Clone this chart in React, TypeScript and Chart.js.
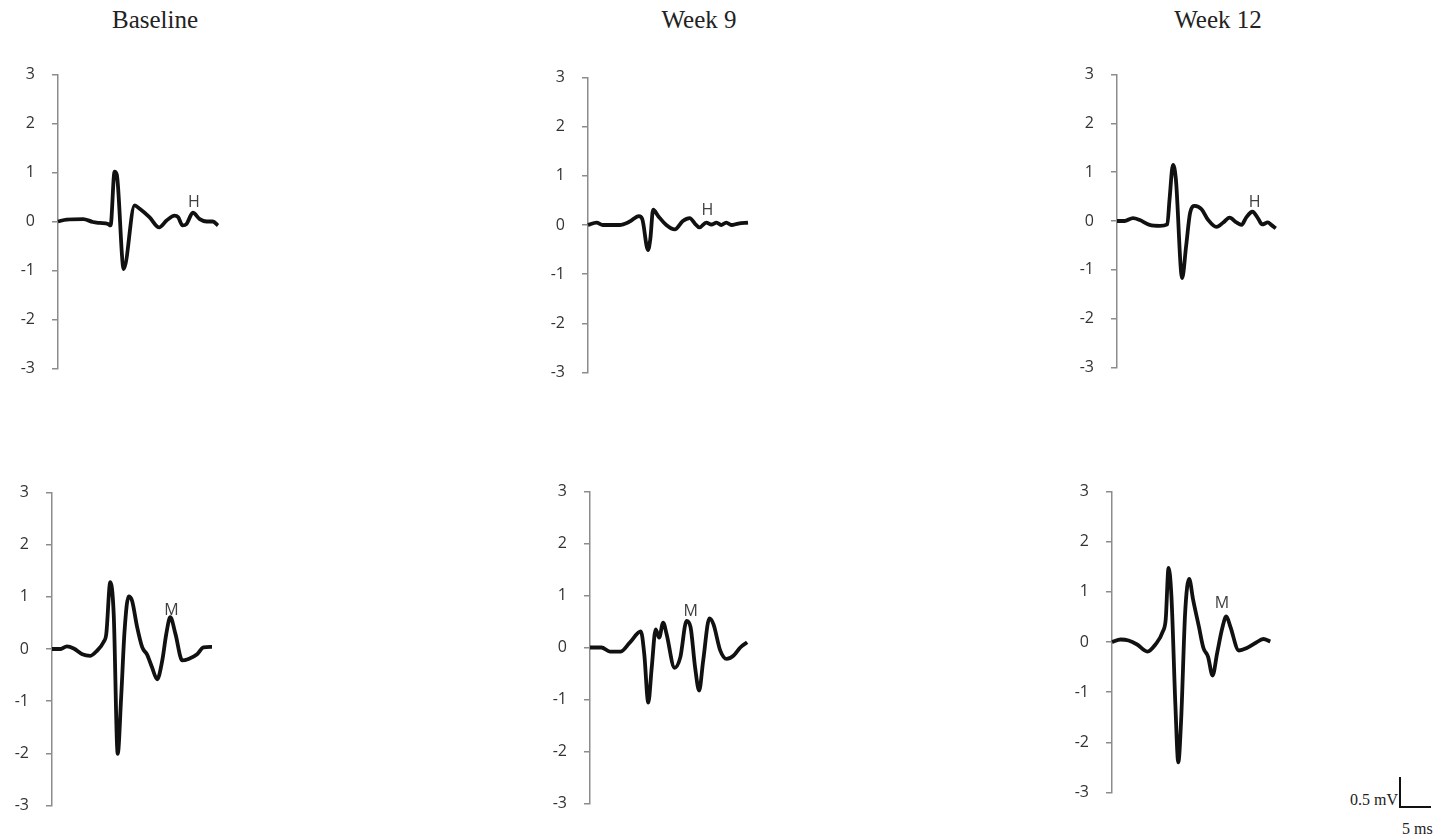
import React, { useEffect, useRef } from "react";
import { Chart, registerables } from "chart.js";

Chart.register(...registerables);

// ---- Data (time in ms, amplitude in mV) ----
const titles = ["Baseline", "Week 9", "Week 12"];
const yTicks = [-3, -2, -1, 0, 1, 2, 3];

const baselineHTime = [0, 1.5, 4.4, 6.1, 7.3, 8.75, 9.2, 9.9, 10.3, 11.5, 13.4, 14.3, 16.0, 17.7, 19.0, 20.4, 21.0, 21.8, 22.5, 23.6, 24.8, 26.0, 27.1, 28.0];
const baselineHValues = [0, 0.04, 0.05, -0.01, -0.03, -0.05, -0.08, 1.02, 0.95, -0.97, 0.33, 0.26, 0.09, -0.12, 0.02, 0.12, 0.09, -0.08, -0.05, 0.18, 0.05, 0.0, 0.0, -0.08];

const week9HTime = [0, 1.5, 2.6, 5.5, 7.3, 8.9, 9.5, 10.5, 10.9, 11.4, 12.3, 13.7, 15.2, 16.6, 17.8, 18.7, 19.5, 20.7, 21.6, 22.5, 23.3, 24.2, 25.1, 26.3, 28.0];
const week9HValues = [0, 0.05, 0, 0, 0.07, 0.18, 0.12, -0.51, -0.29, 0.31, 0.18, 0, -0.09, 0.08, 0.14, 0.03, -0.05, 0.05, 0.01, 0.05, 0, 0.05, 0, 0.03, 0.05];

const week12HTime = [0, 1.3, 2.8, 4.0, 5.7, 7.5, 8.8, 9.2, 9.8, 10.3, 11.4, 12.1, 12.8, 13.6, 14.8, 15.9, 17.4, 18.6, 19.7, 20.9, 21.8, 22.6, 23.7, 24.7, 25.4, 26.4, 27.0, 27.8];
const week12HValues = [0, 0, 0.06, 0.02, -0.08, -0.1, -0.07, 0.45, 1.15, 0.86, -1.17, -0.51, 0.17, 0.31, 0.24, 0.03, -0.12, -0.03, 0.07, -0.03, -0.08, 0.07, 0.19, 0.05, -0.07, -0.03, -0.08, -0.15];

const baselineMTime = [0, 1.5, 2.6, 3.8, 5.3, 6.7, 7.9, 9.0, 9.5, 10.2, 10.8, 11.5, 12.1, 12.7, 13.4, 14.0, 14.9, 15.8, 16.6, 17.5, 18.4, 19.3, 20.0, 20.7, 21.6, 22.8, 23.9, 25.4, 26.5, 28.0];
const baselineMValues = [0, 0, 0.05, 0.01, -0.1, -0.13, -0.03, 0.13, 0.29, 1.28, 0.67, -2.01, -0.93, 0.35, 1.01, 0.93, 0.42, 0.03, -0.1, -0.35, -0.58, -0.22, 0.29, 0.61, 0.29, -0.22, -0.19, -0.1, 0.03, 0.04];

const week9MTime = [0, 2.0, 3.5, 5.3, 7.0, 8.9, 9.5, 10.2, 10.8, 11.5, 12.1, 12.8, 13.4, 14.8, 15.8, 16.9, 17.6, 18.4, 19.1, 19.8, 20.9, 21.6, 22.8, 23.9, 25.1, 26.3, 27.5];
const week9MValues = [0, 0, -0.08, -0.08, 0.1, 0.31, -0.13, -1.06, -0.39, 0.35, 0.19, 0.48, 0.26, -0.39, -0.19, 0.51, 0.39, -0.39, -0.83, -0.26, 0.56, 0.45, -0.06, -0.22, -0.16, 0, 0.1];

const week12MTime = [0, 1.5, 2.9, 4.4, 6.2, 7.6, 8.9, 9.4, 9.9, 10.4, 11.1, 11.6, 12.1, 12.8, 13.5, 14.2, 15.2, 16.0, 16.8, 17.6, 18.4, 19.3, 20.0, 20.7, 22.2, 23.6, 25.1, 26.5, 27.7];
const week12MValues = [0, 0.05, 0.03, -0.05, -0.19, -0.05, 0.21, 0.45, 1.48, 0.91, -1.28, -2.4, -1.55, 0.58, 1.26, 0.84, 0.31, -0.12, -0.29, -0.67, -0.22, 0.28, 0.51, 0.31, -0.17, -0.12, -0.02, 0.06, 0.01];

// Wave labels (text, anchor in ms / mV)
const labelBaselineH = { text: "H", x: 23.8, y: 0.38 };
const labelWeek9H = { text: "H", x: 20.9, y: 0.3 };
const labelWeek12H = { text: "H", x: 24.1, y: 0.38 };
const labelBaselineM = { text: "M", x: 20.9, y: 0.74 };
const labelWeek9M = { text: "M", x: 17.6, y: 0.69 };
const labelWeek12M = { text: "M", x: 19.25, y: 0.76 };

// ---- Layout ----
const LABEL_SPACE = 60;
const AREA_W = 160;
const RIGHT_PAD = 12;
const TICK_FONT = 16;
const TICK_PADDING = 17;
// Chart.js reserves half a tick-label line plus the tick padding above/below the axis
const V_PAD = Math.round((TICK_FONT * 1.2) / 2 + TICK_PADDING);

const panels = [
  { left: 58, top: 75, bottom: 368, time: baselineHTime, values: baselineHValues, label: labelBaselineH },
  { left: 588, top: 78, bottom: 372, time: week9HTime, values: week9HValues, label: labelWeek9H },
  { left: 1117, top: 75, bottom: 367, time: week12HTime, values: week12HValues, label: labelWeek12H },
  { left: 52, top: 493, bottom: 805, time: baselineMTime, values: baselineMValues, label: labelBaselineM },
  { left: 590, top: 492, bottom: 803, time: week9MTime, values: week9MValues, label: labelWeek9M },
  { left: 1112, top: 492, bottom: 792, time: week12MTime, values: week12MValues, label: labelWeek12M },
];

const titlePos = [155, 699, 1218];

const waveLabelPlugin = {
  id: "waveLabel",
  afterDatasetsDraw(chart: any, _args: any, opts: any) {
    if (!opts || !opts.text) return;
    const { ctx, scales } = chart;
    const px = scales.x.getPixelForValue(opts.x);
    const py = scales.y.getPixelForValue(opts.y);
    ctx.save();
    ctx.font = "16px 'Open Sans', sans-serif";
    ctx.fillStyle = "#404040";
    ctx.textAlign = "center";
    ctx.textBaseline = "middle";
    ctx.fillText(opts.text, px, py);
    ctx.restore();
  },
};

function Panel({ p }: { p: any }) {
  const ref = useRef<HTMLCanvasElement>(null);
  const w = LABEL_SPACE + AREA_W + RIGHT_PAD;
  const h = p.bottom - p.top + 2 * V_PAD;
  useEffect(() => {
    if (!ref.current) return;
    const chart = new Chart(ref.current, {
      type: "line",
      data: {
        datasets: [
          {
            data: p.time.map((t: number, i: number) => ({ x: t, y: p.values[i] })),
            borderColor: "#111111",
            borderWidth: 3.8,
            pointRadius: 0,
            fill: false,
            cubicInterpolationMode: "monotone",
            clip: false as any,
          },
        ],
      },
      options: {
        animation: false,
        responsive: false,
        devicePixelRatio: 1,
        layout: { padding: { left: 0, right: RIGHT_PAD, top: 0, bottom: 0 } },
        plugins: {
          legend: { display: false },
          tooltip: { enabled: false },
          waveLabel: p.label,
        } as any,
        scales: {
          x: { type: "linear", display: false, min: 0, max: 28 },
          y: {
            type: "linear",
            min: -3,
            max: 3,
            afterBuildTicks: (s: any) => {
              s.ticks = yTicks.map((v) => ({ value: v }));
            },
            afterFit: (s: any) => {
              s.width = LABEL_SPACE;
            },
            ticks: {
              color: "#333333",
              font: { family: "'Open Sans', sans-serif", size: TICK_FONT },
              padding: TICK_PADDING,
            },
            grid: {
              drawOnChartArea: false,
              drawTicks: true,
              tickLength: 6,
              color: "#8c8c8c",
              lineWidth: 1.5,
            },
            border: { display: true, color: "#8c8c8c", width: 1.5 },
          },
        },
      },
      plugins: [waveLabelPlugin],
    });
    return () => chart.destroy();
  }, []);
  return (
    <div
      style={{
        position: "absolute",
        left: p.left - LABEL_SPACE,
        top: p.top - V_PAD,
        width: w,
        height: h,
      }}
    >
      <canvas ref={ref} width={w} height={h} style={{ width: w, height: h, display: "block" }} />
    </div>
  );
}

export default function App() {
  return (
    <div
      style={{
        position: "absolute",
        left: 0,
        top: 0,
        width: 1444,
        height: 836,
        background: "#ffffff",
        overflow: "hidden",
      }}
    >
      {titles.map((t, i) => (
        <div
          key={t}
          style={{
            position: "absolute",
            left: titlePos[i] - 100,
            width: 200,
            top: 4,
            textAlign: "center",
            fontFamily: "'Liberation Serif', 'Times New Roman', serif",
            fontSize: 25,
            lineHeight: "32px",
            color: "#222",
          }}
        >
          {t}
        </div>
      ))}
      {panels.map((p, i) => (
        <Panel key={i} p={p} />
      ))}
      {/* scale bar */}
      <div
        style={{
          position: "absolute",
          left: 1294,
          width: 104,
          top: 791,
          textAlign: "right",
          fontFamily: "'Liberation Serif', serif",
          fontSize: 16,
          lineHeight: "18px",
          color: "#222",
        }}
      >
        0.5 mV
      </div>
      <div style={{ position: "absolute", left: 1399, top: 777, width: 2, height: 31, background: "#111" }} />
      <div style={{ position: "absolute", left: 1399, top: 806, width: 32, height: 2, background: "#111" }} />
      <div
        style={{
          position: "absolute",
          left: 1402,
          top: 820,
          fontFamily: "'Liberation Serif', serif",
          fontSize: 16,
          lineHeight: "18px",
          color: "#222",
        }}
      >
        5 ms
      </div>
    </div>
  );
}
